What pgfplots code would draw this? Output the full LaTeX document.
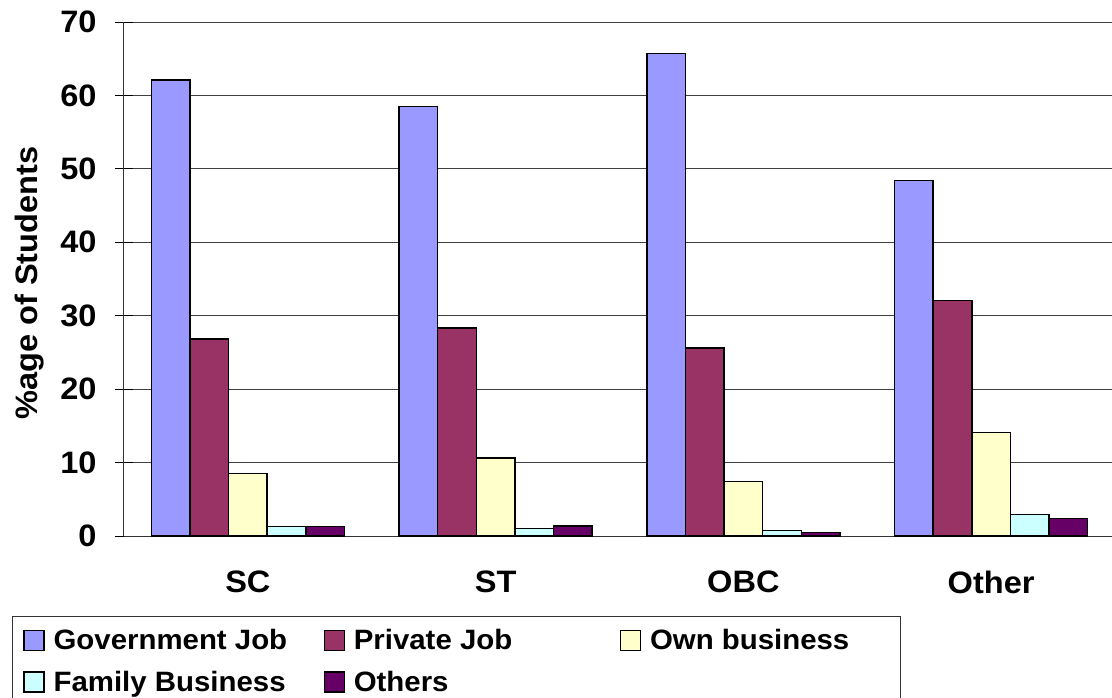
\documentclass[border=0pt]{standalone}
\usepackage{fontspec}
\setmainfont{Liberation Sans}
\newfontfamily\chartfont[FakeStretch=1.05]{Liberation Sans}
\usepackage{pgfplots}
\pgfplotsset{compat=1.18}
\definecolor{cgov}{HTML}{9999FF}
\definecolor{cpriv}{HTML}{993366}
\definecolor{cown}{HTML}{FFFFCC}
\definecolor{cfam}{HTML}{CCFFFF}
\definecolor{coth}{HTML}{660066}
\newcommand\tickf{\chartfont\fontsize{31}{36}\selectfont\bfseries}
\newcommand\legf{\chartfont\fontsize{28}{32}\selectfont\bfseries}
\begin{document}
\begin{tikzpicture}
\path[use as bounding box] (0,0) rectangle (1112pt,-698pt);
\begin{axis}[
  at={(124pt,-536pt)}, anchor=south west,
  scale only axis, width=991pt, height=514pt,
  ybar=0pt, bar width=38.6pt,
  xmin=-0.5, xmax=3.5, ymin=0, ymax=70,
  ytick={0,10,...,70},
  xtick={0,1,2,3},
  xticklabels={SC,ST,OBC,Other},
  extra x ticks={-0.5,0.5,1.5,2.5},
  extra x tick labels={},
  extra x tick style={major tick length=21pt, tick style={black, line width=0.8pt}},
  major x tick style={draw=none},
  major tick length=18pt,
  tick align=center,
  ymajorgrids, grid style={black!75, line width=1pt},
  axis x line*=bottom, axis y line*=left,
  axis line style={black!80, line width=1pt, -},
  y tick style={black, line width=0.8pt},
  ticklabel style={font=\tickf},
  /pgf/number format/assume math mode=true,
  xticklabel style={yshift=-22pt},
  yticklabel style={xshift=-15pt},
  ylabel={\%age of Students},
  ylabel style={font=\tickf, at={(axis description cs:-0.0949,0.492)}, anchor=center, rotate=0},
  every axis plot/.append style={draw=black, line width=1.5pt},
  legend columns=3,
  legend style={at={(axis description cs:-0.1130,-0.1556)}, anchor=north west,
    draw=black!80, line width=0.8pt, font=\legf, inner xsep=11pt, inner ysep=13pt,
    nodes={inner sep=0pt},
    row sep=20pt, column sep=0pt,
    /tikz/every odd column/.append style={column sep=9pt},
    /tikz/every even column/.append style={column sep=0pt}},
  legend cell align=left,
  legend image code/.code={\draw[#1, line width=1.2pt] (0pt,-10pt) rectangle (20pt,10pt);},
]
\addplot[fill=cgov] coordinates {(0,62.1) (1,58.5) (2,65.7) (3,48.4)};
\addplot[fill=cpriv] coordinates {(0,26.8) (1,28.3) (2,25.6) (3,32.1)};
\addplot[fill=cown] coordinates {(0,8.5) (1,10.6) (2,7.4) (3,14.1)};
\addplot[fill=cfam] coordinates {(0,1.3) (1,1.0) (2,0.75) (3,2.9)};
\addplot[fill=coth] coordinates {(0,1.3) (1,1.35) (2,0.45) (3,2.35)};
\addlegendentry{\makebox[270pt][l]{Government Job}}
\addlegendentry{\makebox[266pt][l]{Private Job}}
\addlegendentry{\makebox[239pt][l]{Own business}}
\addlegendentry{\makebox[270pt][l]{Family Business}}
\addlegendentry{\makebox[266pt][l]{Others}}
\end{axis}
\end{tikzpicture}
\end{document}
